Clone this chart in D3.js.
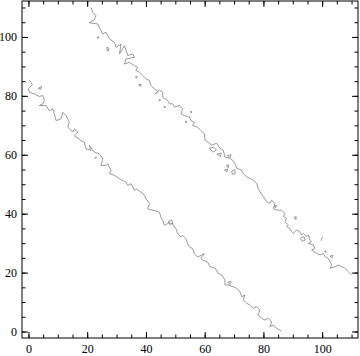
<!DOCTYPE html>
<html><head><meta charset="utf-8">
<script src="https://cdn.jsdelivr.net/npm/d3@7"></script>
<style>html,body{margin:0;padding:0;background:#fff;}svg{display:block;}</style>
</head><body>
<script>
// ---- data ----
const xDomain = [-2.2, 112.2];
const yDomain = [-2.2, 112.2];
const majorTicks = [0, 20, 40, 60, 80, 100];
const minorTicks = [0,5,10,15,20,25,30,35,40,45,50,55,60,65,70,75,80,85,90,95,100,105,110];

const line1 = [[0.3,85.4],[1.3,83.8],[0.0,82.4],[0.3,81.2],[2.0,80.7],[3.7,79.8],[4.9,80.1],[5.4,78.4],[4.9,77.3],[3.7,76.7],[6.0,76.7],[7.1,75.0],[8.3,75.6],[8.8,73.9],[9.4,71.6],[11.1,72.2],[11.7,74.4],[12.8,73.3],[13.9,71.1],[13.4,69.4],[15.1,67.7],[15.6,68.8],[16.8,67.7],[15.6,66.5],[17.9,64.8],[19.0,64.3],[19.6,62.0],[21.3,61.5],[20.7,63.2],[22.4,60.9],[24.1,60.3],[25.3,58.6],[24.7,56.4],[26.4,56.4],[27.0,56.9],[28.1,54.7],[27.6,53.6],[29.3,53.0],[30.9,51.9],[33.2,50.7],[33.8,49.6],[34.9,50.2],[36.1,47.9],[36.6,48.5],[38.3,47.3],[39.5,46.2],[40.0,45.1],[41.2,43.4],[40.6,41.7],[41.2,41.4],[42.9,41.1],[44.6,40.5],[45.1,38.8],[45.7,37.7],[46.3,36.0],[48.0,37.0],[49.1,36.5],[50.2,34.9],[50.8,33.2],[51.9,32.1],[52.5,32.6],[53.6,31.5],[54.2,29.8],[54.8,28.7],[55.9,28.1],[56.5,26.4],[57.6,25.3],[59.9,26.4],[58.7,25.0],[59.3,24.2],[61.0,23.6],[61.8,22.0],[63.5,21.5],[64.6,19.8],[65.8,19.2],[66.9,17.5],[66.9,15.8],[68.0,15.8],[69.7,15.2],[70.9,14.7],[72.0,13.5],[72.6,11.8],[73.7,12.4],[73.1,10.7],[74.3,9.6],[75.4,9.0],[76.5,7.9],[77.7,8.4],[78.8,7.3],[78.2,5.6],[79.4,4.5],[80.5,3.9],[81.6,4.5],[82.8,3.3],[82.2,1.6],[83.3,2.2],[84.5,1.1],[85.6,0.5],[86.2,0.0]];

const line2 = [[21.3,110.0],[21.9,108.3],[23.0,107.2],[22.4,105.8],[20.7,104.8],[23.6,104.4],[24.7,102.1],[25.3,101.0],[26.4,101.6],[27.6,99.3],[29.3,98.2],[29.8,96.5],[31.5,97.6],[31.0,94.2],[32.7,97.0],[33.8,93.7],[35.5,94.2],[36.1,93.1],[33.2,92.5],[32.7,90.8],[34.4,91.4],[36.1,90.2],[37.2,89.7],[36.6,88.6],[37.8,88.0],[38.9,86.9],[40.0,85.8],[41.2,85.2],[41.7,83.5],[42.9,82.4],[44.0,81.5],[43.2,80.6],[44.6,82.0],[45.7,81.2],[45.7,79.5],[47.4,78.4],[48.0,77.3],[49.1,77.3],[49.7,76.2],[51.4,76.7],[52.5,75.6],[51.9,73.9],[53.1,73.3],[54.8,72.8],[55.3,71.6],[56.5,71.1],[55.9,69.9],[57.6,69.4],[58.7,68.2],[59.9,67.1],[60.1,65.0],[61.2,64.2],[62.4,63.3],[64.1,63.9],[65.2,62.2],[66.3,61.6],[66.9,59.3],[68.6,58.8],[69.5,58.2],[70.3,57.1],[70.9,55.4],[72.6,54.8],[73.1,53.7],[74.3,52.5],[75.4,52.0],[76.5,51.4],[77.7,50.3],[78.2,48.6],[78.8,47.5],[79.9,45.8],[81.1,44.1],[82.2,43.5],[82.8,44.6],[83.9,43.5],[83.4,41.8],[84.5,41.2],[86.2,41.2],[87.3,40.1],[86.8,39.0],[87.9,38.4],[87.3,37.3],[88.5,36.2],[87.9,35.6],[89.0,35.0],[89.6,33.9],[90.2,33.3],[91.3,34.5],[92.4,33.9],[93.0,32.8],[93.6,33.3],[94.7,32.2],[95.3,32.8],[95.8,31.1],[96.4,30.5],[95.3,29.9],[97.0,29.4],[97.5,28.2],[96.4,27.7],[98.1,26.5],[99.3,26.0],[100.4,26.5],[101.0,25.4],[102.1,24.8],[102.7,23.7],[103.2,22.6],[102.7,21.5],[104.4,22.0],[105.5,22.6],[106.6,22.0],[107.8,21.5],[108.9,20.3],[110.0,19.2]];

const islands = [
 [[3.3,82.5],[4.5,83.2],[4.2,82.2],[3.3,82.5]],
 [[22.6,59.0],[23.1,59.2],[22.9,58.7],[22.6,59.0]],
 [[47.6,37.4],[48.8,37.8],[49.2,36.6],[48.0,36.4],[47.6,37.4]],
 [[67.8,16.8],[69.0,17.0],[68.6,15.9],[67.8,16.8]],
 [[23.3,99.8],[23.9,100.1],[23.7,99.5],[23.3,99.8]],
 [[26.8,96.6],[27.4,96.2],[27.2,95.2],[26.7,95.5],[26.8,96.6]],
 [[36.4,86.4],[37.0,86.6],[36.8,86.0],[36.4,86.4]],
 [[37.5,83.8],[38.4,84.0],[38.1,83.1],[37.5,83.8]],
 [[44.4,78.6],[44.9,78.7],[44.7,78.2],[44.4,78.6]],
 [[46.1,76.3],[46.6,76.4],[46.4,75.9],[46.1,76.3]],
 [[55.1,74.6],[55.6,74.7],[55.4,74.2],[55.1,74.6]],
 [[53.4,71.3],[53.9,71.4],[53.7,70.9],[53.4,71.3]],
 [[61.6,62.2],[63.0,62.6],[64.0,61.6],[62.8,60.9],[61.6,62.2]],
 [[64.2,60.2],[65.6,60.6],[65.4,59.4],[64.2,60.2]],
 [[67.8,59.8],[69.0,60.0],[68.6,59.0],[67.8,59.8]],
 [[67.4,56.4],[68.2,56.6],[68.0,55.6],[67.4,56.4]],
 [[66.7,54.8],[67.8,55.2],[67.6,54.2],[66.7,54.8]],
 [[69.2,54.4],[70.2,55.0],[70.4,53.6],[69.4,53.4],[69.2,54.4]],
 [[83.6,42.6],[84.4,42.9],[84.2,41.9],[83.6,42.6]],
 [[90.4,38.8],[91.2,38.9],[91.0,38.0],[90.4,38.8]],
 [[92.6,31.6],[93.8,32.2],[94.2,31.0],[93.2,30.6],[92.6,31.6]],
 [[99.6,30.8],[100.1,32.2]],
 [[100.8,27.3],[101.4,27.4],[101.2,26.8],[100.8,27.3]],
 [[102.7,25.6],[103.6,25.9],[103.4,25.0],[102.7,25.6]]
];

// ---- layout ----
const W = 360, H = 356;
const m = {left: 22, right: 2, top: 1, bottom: 18};
const iw = W - m.left - m.right, ih = H - m.top - m.bottom;

const svg = d3.select("body").append("svg").attr("width", W).attr("height", H);
const g = svg.append("g").attr("transform", `translate(${m.left},${m.top})`);

const x = d3.scaleLinear().domain(xDomain).range([0, iw]);
const y = d3.scaleLinear().domain(yDomain).range([ih, 0]);

const font = "'Liberation Serif', 'Times New Roman', serif";

function styleAxis(sel, labels) {
  sel.select(".domain").remove();
  sel.selectAll(".tick line").attr("stroke", "#000").attr("stroke-width", 1);
  if (labels) sel.selectAll(".tick text").attr("font-family", font).attr("font-size", 12).attr("fill", "#000");
  else sel.selectAll(".tick text").remove();
}

// minor ticks
g.append("g").attr("transform", `translate(0,${ih})`).call(d3.axisBottom(x).tickValues(minorTicks).tickSize(-3.5).tickFormat("")).call(s => styleAxis(s, false));
g.append("g").call(d3.axisTop(x).tickValues(minorTicks).tickSize(-3.5).tickFormat("")).call(s => styleAxis(s, false));
g.append("g").call(d3.axisLeft(y).tickValues(minorTicks).tickSize(-3.5).tickFormat("")).call(s => styleAxis(s, false));
g.append("g").attr("transform", `translate(${iw},0)`).call(d3.axisRight(y).tickValues(minorTicks).tickSize(-3.5).tickFormat("")).call(s => styleAxis(s, false));
// major ticks
g.append("g").attr("transform", `translate(0,${ih})`).call(d3.axisBottom(x).tickValues(majorTicks).tickSize(-6).tickPadding(6).tickFormat(d3.format("d"))).call(s => styleAxis(s, true));
g.append("g").call(d3.axisTop(x).tickValues(majorTicks).tickSize(-6).tickFormat("")).call(s => styleAxis(s, false));
g.append("g").call(d3.axisLeft(y).tickValues(majorTicks).tickSize(-6).tickPadding(5).tickFormat(d3.format("d"))).call(s => styleAxis(s, true));
g.append("g").attr("transform", `translate(${iw},0)`).call(d3.axisRight(y).tickValues(majorTicks).tickSize(-6).tickFormat("")).call(s => styleAxis(s, false));

// frame
g.append("rect").attr("x", 0).attr("y", 0).attr("width", iw).attr("height", ih)
  .attr("fill", "none").attr("stroke", "#000").attr("stroke-width", 1);

// contour lines
g.append("clipPath").attr("id", "c").append("rect").attr("width", iw).attr("height", ih);
const line = d3.line().x(d => x(d[0])).y(d => y(d[1]));
const curves = g.append("g").attr("clip-path", "url(#c)")
  .attr("fill", "none").attr("stroke", "#808080").attr("stroke-width", 0.8).attr("stroke-linejoin", "round");
curves.selectAll("path.main").data([line1, line2]).join("path").attr("class", "main").attr("d", line);
curves.selectAll("path.isl").data(islands).join("path").attr("class", "isl").attr("d", line);
</script>
</body></html>
